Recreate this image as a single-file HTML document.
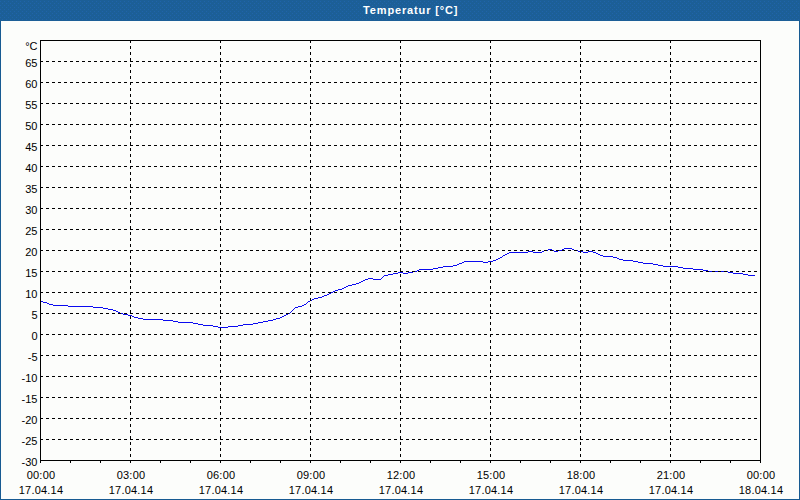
<!DOCTYPE html>
<html><head><meta charset="utf-8"><title>Temperatur</title>
<style>
html,body{margin:0;padding:0;}
body{width:800px;height:500px;overflow:hidden;background:#fcfdfb;font-family:"Liberation Sans",sans-serif;font-size:11px;color:#000;position:relative;}
#frame{position:absolute;left:0;top:0;width:798px;height:499px;border:1px solid #175a92;border-top:none;}
#title{position:absolute;left:0;top:0;width:800px;height:21px;background:#1c5f97;}
#title span{position:absolute;left:363px;top:4px;white-space:nowrap;color:#fff;font-weight:bold;font-size:11px;line-height:13px;letter-spacing:0.86px;}
.hg{position:absolute;left:40px;width:721px;height:1px;background:repeating-linear-gradient(to right,#000 0,#000 3px,transparent 3px,transparent 6px);}
.vg{position:absolute;top:40px;width:1px;height:421px;background:repeating-linear-gradient(to bottom,#000 0,#000 3px,transparent 3px,transparent 6px);}
.ax{position:absolute;background:#000;}
.tk{position:absolute;top:461px;width:1px;height:2px;background:#000;}
.yl{position:absolute;left:0;width:37.5px;text-align:right;line-height:13px;height:13px;white-space:nowrap;}
.xl{position:absolute;width:80px;text-align:center;letter-spacing:0.2px;line-height:13px;height:13px;white-space:nowrap;}
#curve{position:absolute;left:0;top:0;}
</style></head>
<body>
<div id="frame"></div>
<div id="title"><svg width="800" height="21" style="position:absolute;left:0;top:0" shape-rendering="crispEdges"><defs><pattern id="dz" width="4" height="4" patternUnits="userSpaceOnUse"><rect x="0" y="1" width="1" height="1" fill="#2064aa"/><rect x="2" y="3" width="1" height="1" fill="#2064aa"/></pattern></defs><rect width="800" height="21" fill="url(#dz)"/></svg><span>Temperatur [°C]</span></div>
<svg id="curve" width="800" height="500" viewBox="0 0 800 500" shape-rendering="crispEdges"><path d="M41 301h2v1h-2zM43 302h4v1h-4zM47 303h2v1h-2zM49 304h4v1h-4zM53 305h15v1h-15zM68 306h25v1h-25zM93 307h10v1h-10zM103 308h5v1h-5zM108 309h5v1h-5zM113 310h3v1h-3zM116 311h2v1h-2zM118 312h2v1h-2zM120 313h3v1h-3zM123 314h5v1h-5zM128 315h4v1h-4zM132 316h2v1h-2zM134 317h4v1h-4zM138 318h5v1h-5zM143 319h20v1h-20zM163 320h10v1h-10zM173 321h5v1h-5zM178 322h15v1h-15zM193 323h5v1h-5zM198 324h5v1h-5zM203 325h10v1h-10zM213 326h5v1h-5zM218 327h10v1h-10zM228 326h10v1h-10zM238 325h5v1h-5zM243 324h10v1h-10zM253 323h5v1h-5zM258 322h5v1h-5zM263 321h5v1h-5zM268 320h5v1h-5zM273 319h3v1h-3zM276 318h2v1h-2zM278 318h2v1h-2zM280 317h2v1h-2zM282 316h2v1h-2zM284 315h2v1h-2zM286 314h2v1h-2zM288 313h2v1h-2zM290 312h1v1h-1zM291 311h1v1h-1zM292 310h1v1h-1zM293 309h1v1h-1zM294 308h1v1h-1zM295 307h3v1h-3zM298 306h4v1h-4zM302 305h2v1h-2zM304 304h2v1h-2zM306 303h1v1h-1zM307 302h1v1h-1zM308 301h2v1h-2zM310 300h2v1h-2zM312 299h2v1h-2zM314 298h4v1h-4zM318 297h4v1h-4zM322 296h2v1h-2zM324 295h3v1h-3zM327 294h2v1h-2zM329 293h2v1h-2zM331 292h2v1h-2zM333 291h2v1h-2zM335 290h3v1h-3zM338 289h4v1h-4zM342 288h2v1h-2zM344 287h2v1h-2zM346 286h2v1h-2zM348 285h4v1h-4zM352 284h4v1h-4zM356 283h2v1h-2zM358 283h1v1h-1zM359 282h2v1h-2zM361 281h2v1h-2zM363 280h2v1h-2zM365 279h3v1h-3zM368 278h5v1h-5zM373 279h8v1h-8zM381 278h1v1h-1zM382 277h1v1h-1zM383 276h1v1h-1zM384 275h4v1h-4zM388 274h5v1h-5zM393 273h5v1h-5zM398 272h5v1h-5zM403 273h5v1h-5zM408 272h5v1h-5zM413 271h4v1h-4zM417 270h2v1h-2zM419 269h14v1h-14zM433 268h5v1h-5zM438 267h5v1h-5zM443 266h10v1h-10zM453 265h4v1h-4zM457 264h2v1h-2zM459 263h3v1h-3zM462 262h2v1h-2zM464 261h19v1h-19zM483 262h5v1h-5zM488 261h5v1h-5zM493 260h3v1h-3zM496 259h2v1h-2zM498 258h2v1h-2zM500 257h2v1h-2zM502 256h1v1h-1zM503 255h2v1h-2zM505 254h2v1h-2zM507 253h2v1h-2zM509 252h9v1h-9zM518 252h10v1h-10zM528 251h5v1h-5zM533 252h9v1h-9zM542 251h2v1h-2zM544 250h4v1h-4zM548 249h4v1h-4zM552 250h2v1h-2zM554 251h4v1h-4zM558 250h4v1h-4zM562 249h2v1h-2zM564 248h8v1h-8zM572 249h2v1h-2zM574 250h4v1h-4zM578 251h5v1h-5zM583 252h5v1h-5zM588 251h5v1h-5zM593 252h3v1h-3zM596 253h2v1h-2zM598 254h2v1h-2zM600 255h3v1h-3zM603 256h10v1h-10zM613 257h4v1h-4zM617 258h2v1h-2zM619 259h4v1h-4zM623 260h10v1h-10zM633 261h5v1h-5zM638 262h5v1h-5zM643 263h10v1h-10zM653 264h5v1h-5zM658 265h5v1h-5zM663 266h15v1h-15zM678 267h5v1h-5zM683 268h10v1h-10zM693 269h10v1h-10zM703 270h5v1h-5zM708 271h20v1h-20zM728 272h5v1h-5zM733 273h10v1h-10zM743 274h5v1h-5zM748 275h7v1h-7z" fill="#0a0af0"/></svg>
<div class="hg" style="top:61px"></div>
<div class="hg" style="top:82px"></div>
<div class="hg" style="top:103px"></div>
<div class="hg" style="top:124px"></div>
<div class="hg" style="top:145px"></div>
<div class="hg" style="top:166px"></div>
<div class="hg" style="top:187px"></div>
<div class="hg" style="top:208px"></div>
<div class="hg" style="top:229px"></div>
<div class="hg" style="top:250px"></div>
<div class="hg" style="top:271px"></div>
<div class="hg" style="top:292px"></div>
<div class="hg" style="top:313px"></div>
<div class="hg" style="top:334px"></div>
<div class="hg" style="top:355px"></div>
<div class="hg" style="top:376px"></div>
<div class="hg" style="top:397px"></div>
<div class="hg" style="top:418px"></div>
<div class="hg" style="top:439px"></div>
<div class="vg" style="left:130px"></div>
<div class="vg" style="left:220px"></div>
<div class="vg" style="left:310px"></div>
<div class="vg" style="left:400px"></div>
<div class="vg" style="left:490px"></div>
<div class="vg" style="left:580px"></div>
<div class="vg" style="left:670px"></div>
<div class="ax" style="left:40px;top:40px;width:721px;height:1px"></div>
<div class="ax" style="left:40px;top:460px;width:721px;height:1px"></div>
<div class="ax" style="left:40px;top:40px;width:1px;height:421px"></div>
<div class="ax" style="left:760px;top:40px;width:1px;height:421px"></div>
<div class="tk" style="left:40px"></div>
<div class="tk" style="left:70px"></div>
<div class="tk" style="left:100px"></div>
<div class="tk" style="left:130px"></div>
<div class="tk" style="left:160px"></div>
<div class="tk" style="left:190px"></div>
<div class="tk" style="left:220px"></div>
<div class="tk" style="left:250px"></div>
<div class="tk" style="left:280px"></div>
<div class="tk" style="left:310px"></div>
<div class="tk" style="left:340px"></div>
<div class="tk" style="left:370px"></div>
<div class="tk" style="left:400px"></div>
<div class="tk" style="left:430px"></div>
<div class="tk" style="left:460px"></div>
<div class="tk" style="left:490px"></div>
<div class="tk" style="left:520px"></div>
<div class="tk" style="left:550px"></div>
<div class="tk" style="left:580px"></div>
<div class="tk" style="left:610px"></div>
<div class="tk" style="left:640px"></div>
<div class="tk" style="left:670px"></div>
<div class="tk" style="left:700px"></div>
<div class="tk" style="left:730px"></div>
<div class="tk" style="left:760px"></div>
<div class="yl" style="top:40px">°C</div>
<div class="yl" style="top:57px">65</div>
<div class="yl" style="top:78px">60</div>
<div class="yl" style="top:99px">55</div>
<div class="yl" style="top:120px">50</div>
<div class="yl" style="top:141px">45</div>
<div class="yl" style="top:162px">40</div>
<div class="yl" style="top:183px">35</div>
<div class="yl" style="top:204px">30</div>
<div class="yl" style="top:225px">25</div>
<div class="yl" style="top:246px">20</div>
<div class="yl" style="top:267px">15</div>
<div class="yl" style="top:288px">10</div>
<div class="yl" style="top:309px">5</div>
<div class="yl" style="top:330px">0</div>
<div class="yl" style="top:351px">-5</div>
<div class="yl" style="top:372px">-10</div>
<div class="yl" style="top:393px">-15</div>
<div class="yl" style="top:414px">-20</div>
<div class="yl" style="top:435px">-25</div>
<div class="yl" style="top:456px">-30</div>
<div class="xl" style="left:1px;top:469px">00:00</div>
<div class="xl" style="left:1px;top:484px">17.04.14</div>
<div class="xl" style="left:91px;top:469px">03:00</div>
<div class="xl" style="left:91px;top:484px">17.04.14</div>
<div class="xl" style="left:181px;top:469px">06:00</div>
<div class="xl" style="left:181px;top:484px">17.04.14</div>
<div class="xl" style="left:271px;top:469px">09:00</div>
<div class="xl" style="left:271px;top:484px">17.04.14</div>
<div class="xl" style="left:361px;top:469px">12:00</div>
<div class="xl" style="left:361px;top:484px">17.04.14</div>
<div class="xl" style="left:451px;top:469px">15:00</div>
<div class="xl" style="left:451px;top:484px">17.04.14</div>
<div class="xl" style="left:541px;top:469px">18:00</div>
<div class="xl" style="left:541px;top:484px">17.04.14</div>
<div class="xl" style="left:631px;top:469px">21:00</div>
<div class="xl" style="left:631px;top:484px">17.04.14</div>
<div class="xl" style="left:721px;top:469px">00:00</div>
<div class="xl" style="left:721px;top:484px">18.04.14</div>
</body></html>
